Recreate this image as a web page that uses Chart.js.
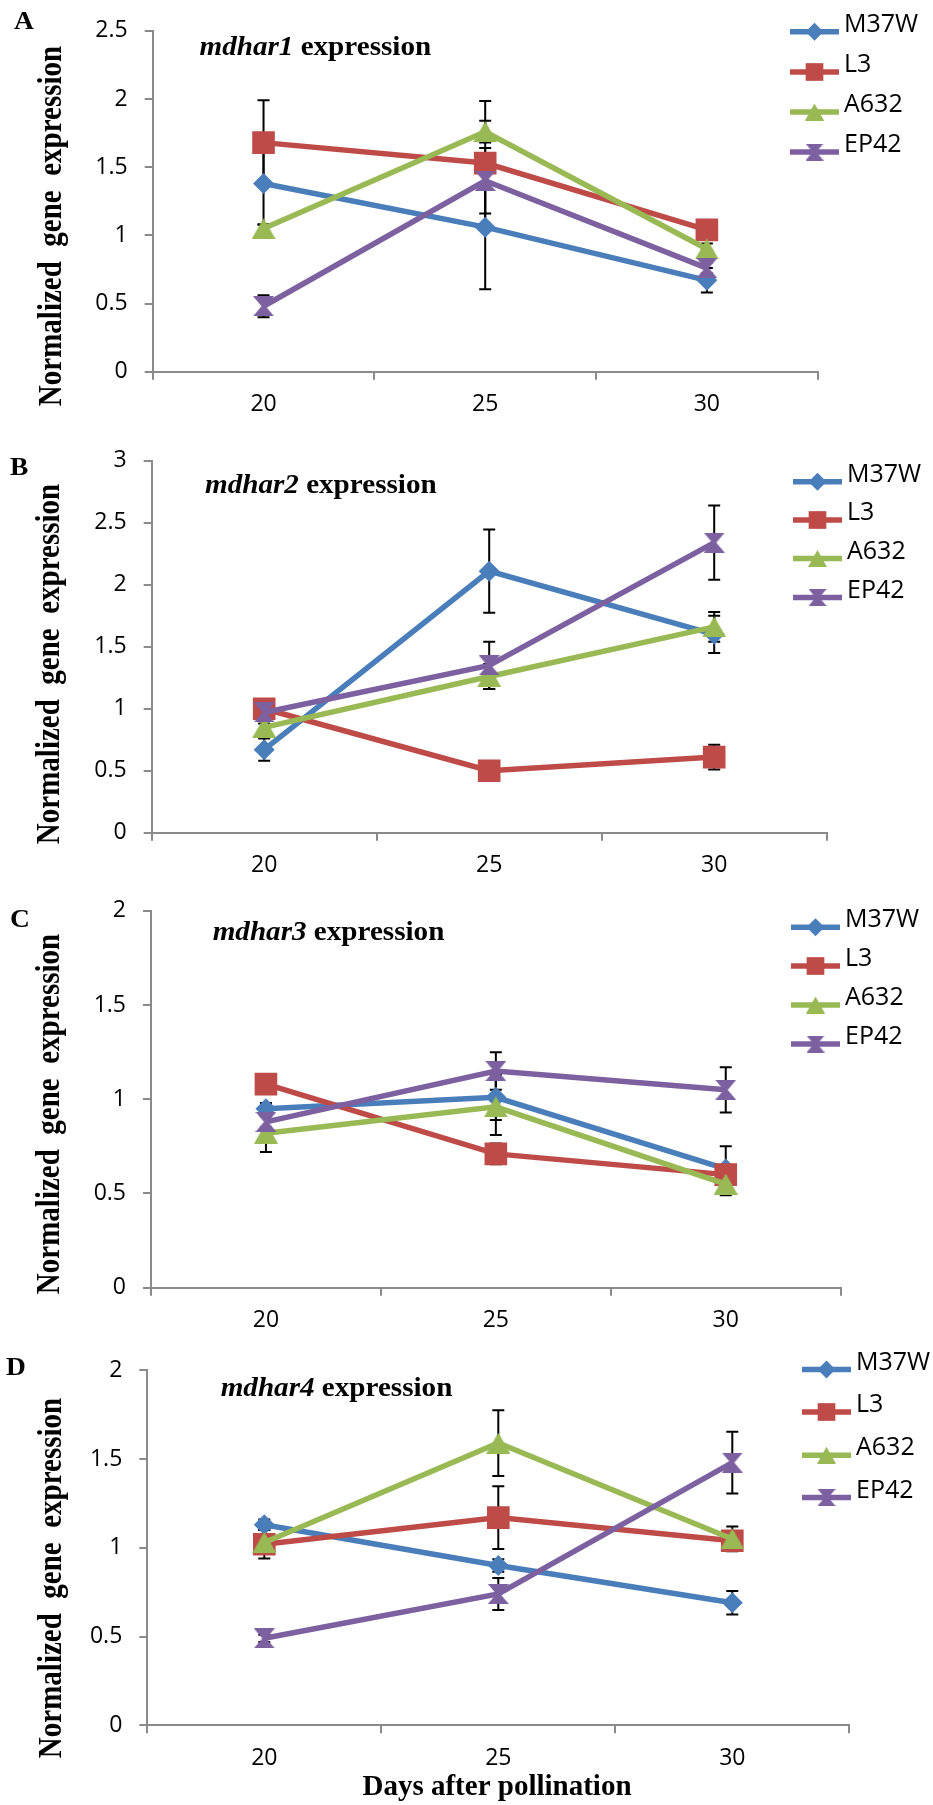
<!DOCTYPE html>
<html>
<head>
<meta charset="utf-8">
<script src="https://cdn.jsdelivr.net/npm/chart.js@4.4.1/dist/chart.umd.min.js"></script>
<style>
  html, body { margin: 0; padding: 0; background: #ffffff; }
  #wrap { position: relative; width: 933px; height: 1805px; overflow: hidden; background: #ffffff; }
  canvas { position: absolute; left: 0; }
</style>
</head>
<body>
<div id="wrap">
  <canvas id="cA" width="933" height="430" style="top:0px"></canvas>
  <canvas id="cB" width="933" height="450" style="top:430px"></canvas>
  <canvas id="cC" width="933" height="455" style="top:880px"></canvas>
  <canvas id="cD" width="933" height="470" style="top:1335px"></canvas>
</div>
<script>
// ---------------- DATA ----------------
const days = ['20', '25', '30'];
const lineNames = ['M37W', 'L3', 'A632', 'EP42'];

// mdhar1
const mdhar1_M37W = [1.38, 1.06, 0.67];
const mdhar1_L3   = [1.68, 1.53, 1.04];
const mdhar1_A632 = [1.05, 1.76, 0.90];
const mdhar1_EP42 = [0.48, 1.40, 0.76];
const mdhar1_M37W_err = [0.30, 0.455, 0.09];
const mdhar1_L3_err   = [0.31, 0.455, 0.07];
const mdhar1_A632_err = [0.03, 0.08, 0.04];
const mdhar1_EP42_err = [0.08, 0.24, 0.04];
const mdhar1_yTicks = [0, 0.5, 1, 1.5, 2, 2.5];

// mdhar2
const mdhar2_M37W = [0.67, 2.11, 1.60];
const mdhar2_L3   = [1.00, 0.50, 0.61];
const mdhar2_A632 = [0.85, 1.26, 1.66];
const mdhar2_EP42 = [0.97, 1.35, 2.34];
const mdhar2_M37W_err = [0.09, 0.335, 0.15];
const mdhar2_L3_err   = [0.03, 0.03, 0.10];
const mdhar2_A632_err = [0.03, 0.10, 0.12];
const mdhar2_EP42_err = [0.03, 0.19, 0.30];
const mdhar2_yTicks = [0, 0.5, 1, 1.5, 2, 2.5, 3];

// mdhar3
const mdhar3_M37W = [0.95, 1.01, 0.63];
const mdhar3_L3   = [1.08, 0.71, 0.60];
const mdhar3_A632 = [0.82, 0.96, 0.55];
const mdhar3_EP42 = [0.88, 1.15, 1.05];
const mdhar3_M37W_err = [0.03, 0.12, 0.12];
const mdhar3_L3_err   = [0.03, 0.055, 0.03];
const mdhar3_A632_err = [0.10, 0.15, 0.06];
const mdhar3_EP42_err = [0.03, 0.10, 0.12];
const mdhar3_yTicks = [0, 0.5, 1, 1.5, 2];

// mdhar4
const mdhar4_M37W = [1.13, 0.90, 0.69];
const mdhar4_L3   = [1.02, 1.17, 1.04];
const mdhar4_A632 = [1.03, 1.59, 1.05];
const mdhar4_EP42 = [0.49, 0.74, 1.48];
const mdhar4_M37W_err = [0.03, 0.035, 0.066];
const mdhar4_L3_err   = [0.08, 0.177, 0.03];
const mdhar4_A632_err = [0.03, 0.185, 0.07];
const mdhar4_EP42_err = [0.02, 0.09, 0.174];
const mdhar4_yTicks = [0, 0.5, 1, 1.5, 2];

const geneNames = ['mdhar1', 'mdhar2', 'mdhar3', 'mdhar4'];
const panelLetters = ['A', 'B', 'C', 'D'];
const yTitle = 'Normalized  gene  expression';
const xTitle = 'Days after pollination';

// ---------------- STYLE ----------------
const COLORS = ['#4A7EBB', '#BE4B48', '#98B954', '#7D60A0'];
const SERIF = '"Liberation Serif", "Times New Roman", serif';
const SANS = '"Open Sans", Lato, sans-serif';
const AXIS_COLOR = '#8A8A8A';

function makeTriangle(color, w, h) {
  const c = document.createElement('canvas');
  c.width = w; c.height = h;
  const x = c.getContext('2d');
  x.fillStyle = color;
  x.beginPath(); x.moveTo(w / 2, 0); x.lineTo(w, h); x.lineTo(0, h); x.closePath(); x.fill();
  return c;
}
function makeHourglass(color, w, h) {
  const c = document.createElement('canvas');
  c.width = w; c.height = h;
  const x = c.getContext('2d');
  x.fillStyle = color;
  x.beginPath();
  x.moveTo(0, 0); x.lineTo(w, 0); x.lineTo(w / 2 + 2, h / 2); x.lineTo(w, h);
  x.lineTo(0, h); x.lineTo(w / 2 - 2, h / 2); x.closePath(); x.fill();
  return c;
}
const MARKERS = [
  { style: 'rectRot', radius: 10.5 },
  { style: 'rect', radius: 16 },
  { style: makeTriangle(COLORS[2], 24, 21), radius: 12 },
  { style: makeHourglass(COLORS[3], 21, 20), radius: 10 }
];
const MARKERS_LEGEND = [
  { style: 'rectRot', radius: 9 },
  { style: 'rect', radius: 12.5 },
  { style: makeTriangle(COLORS[2], 19, 17), radius: 9 },
  { style: makeHourglass(COLORS[3], 18, 17), radius: 9 }
];

// ---------------- LAYOUT (absolute page coords) ----------------
const panels = [
  { id: 'cA', top: 0, h: 430, L: 152.7, R: 817.7, T: 24.3, B: 371.7,
    values: [mdhar1_M37W, mdhar1_L3, mdhar1_A632, mdhar1_EP42],
    errs: [mdhar1_M37W_err, mdhar1_L3_err, mdhar1_A632_err, mdhar1_EP42_err],
    ticks: mdhar1_yTicks, gene: geneNames[0], letter: panelLetters[0],
    letterPos: [14, 28.5], titlePos: [199.5, 55], yTitlePos: [61, 226],
    legendX: 790, legendY: [31.7, 72, 112, 152] },
  { id: 'cB', top: 430, h: 450, L: 151.7, R: 826.7, T: 459.3, B: 832.7,
    values: [mdhar2_M37W, mdhar2_L3, mdhar2_A632, mdhar2_EP42],
    errs: [mdhar2_M37W_err, mdhar2_L3_err, mdhar2_A632_err, mdhar2_EP42_err],
    ticks: mdhar2_yTicks, gene: geneNames[1], letter: panelLetters[1],
    letterPos: [10, 475], titlePos: [205, 493], yTitlePos: [59, 664],
    legendX: 793, legendY: [481.7, 520, 558.5, 597.5] },
  { id: 'cC', top: 880, h: 455, L: 151, R: 840.7, T: 902.3, B: 1287.7,
    values: [mdhar3_M37W, mdhar3_L3, mdhar3_A632, mdhar3_EP42],
    errs: [mdhar3_M37W_err, mdhar3_L3_err, mdhar3_A632_err, mdhar3_EP42_err],
    ticks: mdhar3_yTicks, gene: geneNames[2], letter: panelLetters[2],
    letterPos: [10, 926.7], titlePos: [212.7, 940], yTitlePos: [59, 1114],
    legendX: 791, legendY: [927.3, 966, 1005, 1044] },
  { id: 'cD', top: 1335, h: 470, L: 147.3, R: 849.3, T: 1370.3, B: 1725.3,
    values: [mdhar4_M37W, mdhar4_L3, mdhar4_A632, mdhar4_EP42],
    errs: [mdhar4_M37W_err, mdhar4_L3_err, mdhar4_A632_err, mdhar4_EP42_err],
    ticks: mdhar4_yTicks, gene: geneNames[3], letter: panelLetters[3],
    letterPos: [6, 1375], titlePos: [220.7, 1395.5], yTitlePos: [61, 1578],
    legendX: 802, legendY: [1369.5, 1412, 1455.3, 1497.5],
    xTitle: true, xTitlePos: [497, 1795] }
];

Chart.defaults.font.family = SANS;
Chart.defaults.font.size = 23;
Chart.defaults.color = '#000000';

const errorBarPlugin = {
  id: 'errorBars',
  beforeDatasetsDraw(chart) {
    const ctx = chart.ctx;
    const ys = chart.scales.y;
    ctx.save();
    ctx.strokeStyle = '#000000';
    ctx.lineWidth = 2;
    chart.data.datasets.forEach((ds, i) => {
      const meta = chart.getDatasetMeta(i);
      ds.errors.forEach((e, j) => {
        const pt = meta.data[j];
        const v = ds.data[j];
        const yt = ys.getPixelForValue(v + e);
        const yb = ys.getPixelForValue(v - e);
        const x = pt.x;
        ctx.beginPath();
        ctx.moveTo(x, yt); ctx.lineTo(x, yb);
        ctx.moveTo(x - 6, yt); ctx.lineTo(x + 6, yt);
        ctx.moveTo(x - 6, yb); ctx.lineTo(x + 6, yb);
        ctx.stroke();
      });
    });
    ctx.restore();
  }
};

function drawLegendMarker(ctx, m, x, y, color) {
  ctx.fillStyle = color;
  if (m.style === 'rectRot') {
    const r = m.radius;
    ctx.beginPath();
    ctx.moveTo(x, y - r); ctx.lineTo(x + r, y); ctx.lineTo(x, y + r); ctx.lineTo(x - r, y);
    ctx.closePath(); ctx.fill();
  } else if (m.style === 'rect') {
    const s = m.radius * Math.SQRT1_2;
    ctx.fillRect(x - s, y - s, 2 * s, 2 * s);
  } else {
    ctx.drawImage(m.style, x - m.style.width / 2, y - m.style.height / 2);
  }
}

function decoPlugin(p) {
  return {
    id: 'deco_' + p.id,
    afterDraw(chart) {
      const ctx = chart.ctx;
      const off = p.top;
      ctx.save();
      ctx.fillStyle = '#000000';
      ctx.textBaseline = 'alphabetic';
      // panel letter
      ctx.save();
      ctx.translate(p.letterPos[0], p.letterPos[1] - off);
      ctx.scale(1.1, 1);
      ctx.font = 'bold 25px ' + SERIF;
      ctx.textAlign = 'left';
      ctx.fillText(p.letter, 0, 0);
      ctx.restore();
      // in-plot title: italic gene + " expression"
      ctx.save();
      ctx.translate(p.titlePos[0], p.titlePos[1] - off);
      ctx.scale(1.04, 1);
      ctx.textAlign = 'left';
      ctx.font = 'italic bold 28px ' + SERIF;
      ctx.fillText(p.gene, 0, 0);
      const gw = ctx.measureText(p.gene).width;
      ctx.font = 'bold 28px ' + SERIF;
      ctx.fillText(' expression', gw, 0);
      ctx.restore();
      // y-axis title
      ctx.save();
      ctx.translate(p.yTitlePos[0], p.yTitlePos[1] - off);
      ctx.rotate(-Math.PI / 2);
      ctx.scale(1.0, 1.15);
      ctx.textAlign = 'center';
      ctx.font = 'bold 29px ' + SERIF;
      ctx.fillText(yTitle, 0, 0);
      ctx.restore();
      // x-axis title
      if (p.xTitle) {
        ctx.save();
        ctx.translate(p.xTitlePos[0], p.xTitlePos[1] - off);
        ctx.textAlign = 'center';
        ctx.font = 'bold 29px ' + SERIF;
        ctx.fillText(xTitle, 0, 0);
        ctx.restore();
      }
      // legend
      chart.data.datasets.forEach((ds, i) => {
        const y = p.legendY[i] - off;
        const x0 = p.legendX, x1 = p.legendX + 49;
        ctx.strokeStyle = ds.borderColor;
        ctx.lineWidth = 5.5;
        ctx.beginPath(); ctx.moveTo(x0, y); ctx.lineTo(x1, y); ctx.stroke();
        drawLegendMarker(ctx, MARKERS_LEGEND[i], (x0 + x1) / 2, y, ds.borderColor);
        ctx.fillStyle = '#000000';
        ctx.textAlign = 'left';
        ctx.font = '25px ' + SANS;
        ctx.fillText(ds.label, x1 + 5, y);
      });
      ctx.restore();
    }
  };
}

panels.forEach((p) => {
  const W = 933;
  const datasets = lineNames.map((name, i) => ({
    label: name,
    data: p.values[i],
    errors: p.errs[i],
    borderColor: COLORS[i],
    backgroundColor: COLORS[i],
    borderWidth: 5.5,
    pointStyle: MARKERS[i].style,
    pointRadius: MARKERS[i].radius,
    pointHoverRadius: MARKERS[i].radius,
    pointBackgroundColor: COLORS[i],
    pointBorderWidth: 0,
    tension: 0,
    fill: false,
    order: 4 - i
  }));
  const ticks = p.ticks;
  new Chart(document.getElementById(p.id), {
    type: 'line',
    data: { labels: days, datasets: datasets },
    options: {
      responsive: false,
      animation: false,
      events: [],
      layout: { padding: { top: p.T - p.top, right: W - p.R, left: 0, bottom: 0 } },
      plugins: { legend: { display: false }, tooltip: { enabled: false } },
      scales: {
        x: {
          type: 'category',
          offset: true,
          grid: { display: true, drawOnChartArea: false, drawTicks: true, tickLength: 8,
                  color: AXIS_COLOR, lineWidth: 2, offset: true },
          border: { display: true, color: AXIS_COLOR, width: 2 },
          ticks: { padding: 11, color: '#000000', maxRotation: 0, autoSkip: false },
          afterFit: (s) => { s.height = p.h - (p.B - p.top); }
        },
        y: {
          min: ticks[0],
          max: ticks[ticks.length - 1],
          grid: { display: true, drawOnChartArea: false, drawTicks: true, tickLength: 8,
                  color: AXIS_COLOR, lineWidth: 2 },
          border: { display: true, color: AXIS_COLOR, width: 2 },
          ticks: { stepSize: ticks[1] - ticks[0], padding: 17, color: '#000000',
                   callback: (v) => String(Math.round(v * 100) / 100) },
          afterFit: (s) => { s.width = p.L; }
        }
      }
    },
    plugins: [errorBarPlugin, decoPlugin(p)]
  });
});
</script>
</body>
</html>
